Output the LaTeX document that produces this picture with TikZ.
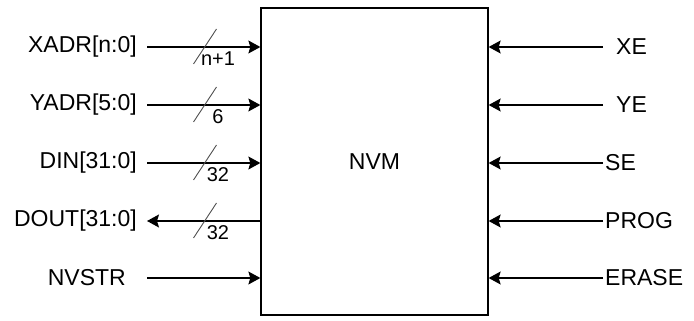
\documentclass[tikz,border=0pt]{standalone}
\usepackage{fontspec}
\setmainfont{Liberation Sans}
\usetikzlibrary{arrows.meta}
\definecolor{busColor}{RGB}{80,80,80}
\tikzstyle{blockStyle} = [draw, line width=1.3pt, minimum width=227pt, minimum height=307pt, inner sep=0pt]
\tikzstyle{pinLine} = [line width=1.3pt, -{Stealth[length=12pt, width=13pt, inset=2pt]}]
\tikzstyle{pinText} = [inner sep=0pt]
\tikzstyle{busLine} = [color=busColor, line width=0.9pt]
\tikzstyle{busText} = [inner sep=0pt, font=\fontsize{20}{23}\selectfont]
\newcommand{\busMark}[4]{\draw [busLine] (#1 - 11.5, #2 + 17) -- + (23,-35); \node [busText] (#3) at (#1 + 13, #2 + 12) {#4};}

\begin{document}
\begin{tikzpicture}[x=1pt, y=-1pt, font=\fontsize{23}{27}\selectfont]
  \useasboundingbox (0,0) rectangle (694,321);
  \node [blockStyle] (nvm) at (374.5,161.5) {NVM};

  % inputs and output on the left
  \node [pinText, anchor=east] (xadr) at (137,47) {XADR[n:0]};
  \node [pinText, anchor=east] (yadr) at (137,105) {YADR[5:0]};
  \node [pinText, anchor=east] (din) at (137,163) {DIN[31:0]};
  \node [pinText, anchor=east] (dout) at (137,221) {DOUT[31:0]};
  \node [pinText, anchor=east] (nvstr) at (126,278) {NVSTR};
  \coordinate (xadrStart) at (147,47);
  \coordinate (yadrStart) at (147,105);
  \coordinate (dinStart) at (147,163);
  \coordinate (doutEnd) at (147,221);
  \coordinate (nvstrStart) at (147,278);
  \draw [pinLine] (xadrStart) -- (xadrStart -| nvm.west);
  \draw [pinLine] (yadrStart) -- (yadrStart -| nvm.west);
  \draw [pinLine] (dinStart) -- (dinStart -| nvm.west);
  \draw [pinLine] (nvm.west |- doutEnd) -- (doutEnd);
  \draw [pinLine] (nvstrStart) -- (nvstrStart -| nvm.west);
  \busMark{205}{47}{xadrWidth}{n+1}
  \busMark{205}{105}{yadrWidth}{6}
  \busMark{205}{163}{dinWidth}{32}
  \busMark{205}{221}{doutWidth}{32}

  % control inputs on the right
  \node [pinText, anchor=west] (xe) at (616,47) {XE};
  \node [pinText, anchor=west] (ye) at (616,105) {YE};
  \node [pinText, anchor=west] (se) at (605,163) {SE};
  \node [pinText, anchor=west] (prog) at (605,221) {PROG};
  \node [pinText, anchor=west] (erase) at (605,278) {ERASE};
  \coordinate (xeStart) at (603,47);
  \coordinate (yeStart) at (603,105);
  \coordinate (seStart) at (603,163);
  \coordinate (progStart) at (603,221);
  \coordinate (eraseStart) at (603,278);
  \draw [pinLine] (xeStart) -- (xeStart -| nvm.east);
  \draw [pinLine] (yeStart) -- (yeStart -| nvm.east);
  \draw [pinLine] (seStart) -- (seStart -| nvm.east);
  \draw [pinLine] (progStart) -- (progStart -| nvm.east);
  \draw [pinLine] (eraseStart) -- (eraseStart -| nvm.east);
\end{tikzpicture}
\end{document}
